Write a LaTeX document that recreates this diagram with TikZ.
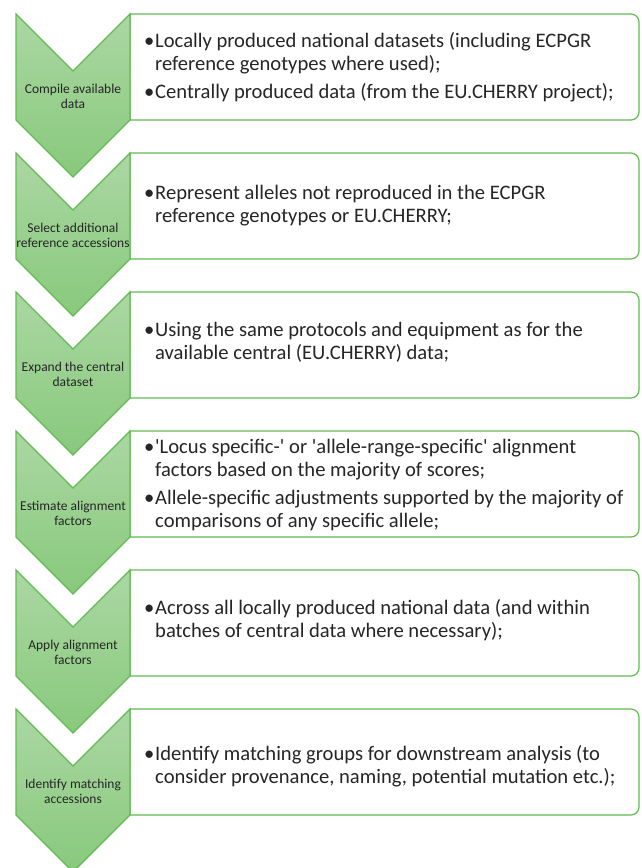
\documentclass[tikz,border=0pt]{standalone}
\usepackage{fontspec}
\newfontfamily\calfont{Carlito}
\usepackage{tikz}
\usetikzlibrary{positioning}
\definecolor{sgreen}{HTML}{62BB52}
\definecolor{chevtop}{HTML}{ABD7A3}
\definecolor{chevbot}{HTML}{88C97C}
\newcommand{\bul}{\makebox[11pt][l]{\textbullet}}
\newcommand{\ind}{\hspace*{11pt}}
\tikzset{
  x=1pt, y=-1pt,
  chevron/.style={draw=sgreen, line width=1.2pt, line join=miter,
    top color=chevtop, bottom color=chevbot},
  panel/.style={draw=sgreen, line width=1.2pt, fill=white},
  steplab/.style={font=\calfont\fontsize{13.5}{14.8}\selectfont, align=center,
    inner sep=0pt, text=black!85},
  bullets/.style={font=\calfont\fontsize{20.6}{23}\selectfont, align=left,
    inner sep=0pt, anchor=west, text=black!85}
}

\begin{document}
\begin{tikzpicture}
  \useasboundingbox (0,0) rectangle (641,868);
  % panels
  \draw[panel] (130,14) [rounded corners=8pt] -- (639,14) -- (639,120) [sharp corners] -- (130,120) -- cycle;
  \draw[panel] (130,153) [rounded corners=8pt] -- (639,153) -- (639,259) [sharp corners] -- (130,259) -- cycle;
  \draw[panel] (130,292) [rounded corners=8pt] -- (639,292) -- (639,398) [sharp corners] -- (130,398) -- cycle;
  \draw[panel] (130,431) [rounded corners=8pt] -- (639,431) -- (639,537) [sharp corners] -- (130,537) -- cycle;
  \draw[panel] (130,570) [rounded corners=8pt] -- (639,570) -- (639,676) [sharp corners] -- (130,676) -- cycle;
  \draw[panel] (130,709) [rounded corners=8pt] -- (639,709) -- (639,815) [sharp corners] -- (130,815) -- cycle;
  % chevrons
  \draw[chevron] (16,14) -- (73,71) -- (130,14) -- (130,120) -- (73,177) -- (16,120) -- cycle;
  \draw[chevron] (16,153) -- (73,210) -- (130,153) -- (130,259) -- (73,316) -- (16,259) -- cycle;
  \draw[chevron] (16,292) -- (73,349) -- (130,292) -- (130,398) -- (73,455) -- (16,398) -- cycle;
  \draw[chevron] (16,431) -- (73,488) -- (130,431) -- (130,537) -- (73,594) -- (16,537) -- cycle;
  \draw[chevron] (16,570) -- (73,627) -- (130,570) -- (130,676) -- (73,733) -- (16,676) -- cycle;
  \draw[chevron] (16,709) -- (73,766) -- (130,709) -- (130,815) -- (73,872) -- (16,815) -- cycle;
  % step labels
  \node[steplab] (compile) at (73,96) {Compile available\\data};
  \node[steplab] (select) at (73,235) {Select additional\\reference accessions};
  \node[steplab] (expand) at (73,374) {Expand the central\\dataset};
  \node[steplab] (estimate) at (73,513) {Estimate alignment\\factors};
  \node[steplab] (apply) at (73,652) {Apply alignment\\factors};
  \node[steplab] (identify) at (73,791) {Identify matching\\accessions};
  % panel texts
  \node[bullets] (compiletxt) at (144,67)
    {\bul Locally produced national datasets (including ECPGR\\
     \ind reference genotypes where used);\\[5pt]
     \bul Centrally produced data (from the EU.CHERRY project);};
  \node[bullets] (selecttxt) at (144,206)
    {\bul Represent alleles not reproduced in the ECPGR\\
     \ind reference genotypes or EU.CHERRY;};
  \node[bullets] (expandtxt) at (144,342)
    {\bul Using the same protocols and equipment as for the\\
     \ind available central (EU.CHERRY) data;};
  \node[bullets] (estimatetxt) at (144,485)
    {\bul 'Locus specific-' or 'allele-range-specific' alignment\\
     \ind factors based on the majority of scores;\\[5pt]
     \bul Allele-specific adjustments supported by the majority of\\
     \ind comparisons of any specific allele;};
  \node[bullets] (applytxt) at (144,620)
    {\bul Across all locally produced national data (and within\\
     \ind batches of central data where necessary);};
  \node[bullets] (identifytxt) at (144,766)
    {\bul Identify matching groups for downstream analysis (to\\
     \ind consider provenance, naming, potential mutation etc.);};
\end{tikzpicture}
\end{document}
